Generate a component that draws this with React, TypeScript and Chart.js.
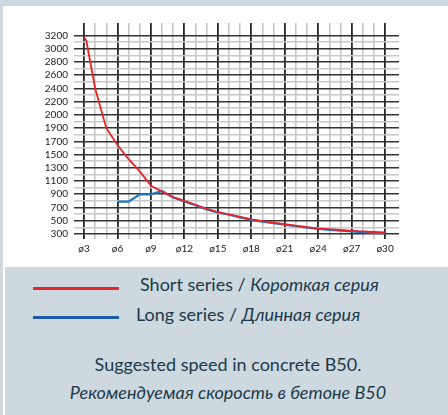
import React, { useEffect, useRef } from 'react';
import { Chart, registerables } from 'chart.js';

Chart.register(...registerables);

// Tick labels exactly as printed on the reference axis (one every two grid lines)
const yTickLabels = [3200, 3000, 2800, 2600, 2400, 2200, 2000, 1900, 1700, 1500, 1300, 1100, 900, 700, 500, 300];
const xTickValues = [3, 6, 9, 12, 15, 18, 21, 24, 27, 30];

// Short series / Короткая серия (values read against the printed labels)
const shortX = [3, 3.2, 4, 5, 6, 7, 8, 9, 10, 11, 12, 13, 14, 15, 16, 17, 18, 19, 20, 21, 22, 23, 24, 25, 26, 27, 28, 29, 30];
const shortY = [3170, 3125, 2400, 1900, 1645, 1430, 1245, 1030, 940, 858, 800, 742, 678, 632, 598, 558, 522, 495, 470, 447, 425, 405, 386, 372, 360, 348, 338, 330, 323];

// Long series / Длинная серия
const longX = [6, 7, 8, 9, 10, 11, 12, 13, 14, 15, 16, 17, 18, 19, 20, 21, 22, 23, 24, 25, 26, 27, 28, 29, 30];
const longY = [790, 790, 900, 900, 950, 850, 790, 735, 672, 626, 590, 550, 514, 487, 462, 439, 417, 397, 378, 363, 350, 338, 326, 316, 308];

const FONT = 'Lato, "Open Sans", "Noto Sans", sans-serif';
const TEXT = '#1b3a4b';

// printed label -> position on the evenly spaced grid (label i sits at 3200 - 200*i)
function toAxis(v: number): number {
  const pos = yTickLabels.map((_, i) => 3200 - 200 * i);
  for (let i = 0; i < yTickLabels.length - 1; i++) {
    const a = yTickLabels[i], b = yTickLabels[i + 1];
    if (v <= a && v >= b) {
      return pos[i] + ((v - a) / (b - a)) * (pos[i + 1] - pos[i]);
    }
  }
  return v >= yTickLabels[0] ? v : pos[pos.length - 1] + (v - yTickLabels[yTickLabels.length - 1]);
}

function ChartBox() {
  const ref = useRef<HTMLCanvasElement | null>(null);
  useEffect(() => {
    if (!ref.current) return;
    const chart = new Chart(ref.current, {
      type: 'line',
      data: {
        datasets: [
          {
            label: 'Short series / Короткая серия',
            data: shortX.map((x, i) => ({ x, y: toAxis(shortY[i]) })),
            borderColor: '#e8232a',
            borderWidth: 1.8,
            pointRadius: 0,
            tension: 0,
            fill: false,
          },
          {
            label: 'Long series / Длинная серия',
            data: longX.map((x, i) => ({ x, y: toAxis(longY[i]) })),
            borderColor: '#1f78c4',
            borderWidth: 2.2,
            pointRadius: 0,
            tension: 0,
            fill: false,
          },
        ],
      },
      options: {
        animation: false,
        responsive: false,
        maintainAspectRatio: false,
        layout: { padding: { left: 0, right: 49, top: 23, bottom: 8 } },
        plugins: { legend: { display: false }, tooltip: { enabled: false } },
        scales: {
          x: {
            type: 'linear',
            min: 2.1,
            max: 31.25,
            border: { display: false },
            afterBuildTicks: (scale: any) => {
              const t = [];
              for (let v = 3; v <= 30; v++) t.push({ value: v });
              scale.ticks = t;
            },
            afterFit: (scale: any) => {
              scale.height = 20;
            },
            grid: {
              drawTicks: false,
              color: (ctx: any) => (xTickValues.includes(ctx.tick?.value) ? '#262626' : '#c6c6c6'),
              lineWidth: (ctx: any) => (xTickValues.includes(ctx.tick?.value) ? 1.8 : 1.6),
            },
            ticks: {
              autoSkip: false,
              maxRotation: 0,
              padding: 4,
              color: '#222',
              font: { family: FONT, size: 10 },
              callback: (v: any) => (xTickValues.includes(Number(v)) ? 'ø' + v : ''),
            },
          },
          y: {
            type: 'linear',
            min: 124,
            max: 3389,
            border: { display: false },
            afterBuildTicks: (scale: any) => {
              const t = [];
              for (let v = 200; v <= 3200; v += 100) t.push({ value: v });
              scale.ticks = t;
            },
            afterFit: (scale: any) => {
              scale.width = 74;
            },
            grid: {
              drawTicks: false,
              color: (ctx: any) => ((3200 - ctx.tick?.value) % 200 === 0 ? '#333333' : '#c8c8c8'),
              lineWidth: (ctx: any) => ((3200 - ctx.tick?.value) % 200 === 0 ? 1.6 : 1.6),
            },
            ticks: {
              autoSkip: false,
              padding: 6,
              color: '#222',
              font: { family: FONT, size: 10 },
              callback: (v: any) => {
                const idx = (3200 - Number(v)) / 200;
                return Number.isInteger(idx) && idx >= 0 && idx < yTickLabels.length ? String(yTickLabels[idx]) : '';
              },
            },
          },
        },
      },
    });
    return () => chart.destroy();
  }, []);
  return <canvas ref={ref} width={448} height={267} style={{ position: 'absolute', left: 0, top: 0, width: 448, height: 267 }} />;
}

export default function App() {
  const textBase: React.CSSProperties = {
    position: 'absolute',
    fontFamily: FONT,
    fontSize: 18,
    lineHeight: '18px',
    color: TEXT,
    whiteSpace: 'nowrap',
  };
  return (
    <div style={{ position: 'absolute', left: 0, top: 0, width: 448, height: 415, background: '#ced8df', overflow: 'hidden' }}>
      <div style={{ position: 'absolute', left: 3, top: 6, width: 445, height: 409, background: '#ffffff' }} />
      <div style={{ position: 'absolute', left: 5, top: 267, width: 443, height: 148, background: '#ced8df' }} />
      <ChartBox />
      <div style={{ position: 'absolute', left: 33, top: 287, width: 86, height: 3, background: '#e3262b' }} />
      <div style={{ position: 'absolute', left: 33, top: 316, width: 86, height: 3, background: '#1f5aa6' }} />
      <div style={{ ...textBase, left: 140, top: 275 }}>
        Short series / <i>Короткая серия</i>
      </div>
      <div style={{ ...textBase, left: 136, top: 305 }}>
        Long series / <i>Длинная серия</i>
      </div>
      <div style={{ ...textBase, left: 0, width: 456, textAlign: 'center', top: 355 }}>
        Suggested speed in concrete B50.
      </div>
      <div style={{ ...textBase, left: 0, width: 456, textAlign: 'center', top: 383 }}>
        <i>Рекомендуемая скорость в бетоне B50</i>
      </div>
    </div>
  );
}
